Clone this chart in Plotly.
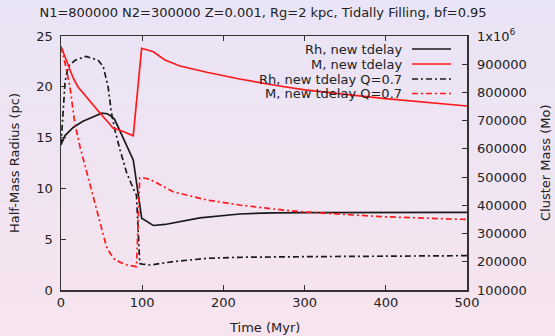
import plotly.graph_objects as go

# ---- data ----
t_rh = [0, 5, 15, 27, 40, 50, 57, 62, 66, 89, 99.4, 113.7, 128, 150, 171, 220, 261, 300, 400, 500]
rh = [14.3, 15.2, 16.0, 16.6, 17.05, 17.4, 17.35, 17.1, 16.8, 12.8, 7.06, 6.35, 6.45, 6.8, 7.1, 7.48, 7.6, 7.62, 7.65, 7.65]

t_m = [0, 5, 9, 15, 21, 30, 38, 45, 50, 60, 64, 75, 89, 99.3, 113.7, 128, 146.5, 179.5, 220, 261.5, 300, 396, 500]
m = [962800, 925600, 890200, 851200, 819300, 787400, 761500, 737800, 720100, 688200, 674000, 663400, 646700,
     956400, 944400, 915000, 893700, 871400, 847600, 826400, 809400, 779300, 752000]

t_rhq = [0, 2, 5, 9, 17, 31, 46, 52, 58, 62, 66.5, 72.7, 81, 89, 93, 97, 100, 110, 138, 180, 220, 300, 400, 500]
rhq = [14.3, 17.0, 20.5, 22.0, 22.6, 23.0, 22.6, 22.0, 20.0, 17.5, 15.7, 13.8, 11.5, 10.0, 9.3, 2.6, 2.55, 2.46, 2.79, 3.12, 3.22, 3.28, 3.33, 3.38]

t_mq = [0, 5, 11, 15, 17, 23.4, 31.6, 39.8, 46, 56, 61, 66.5, 81, 93, 97, 100, 110, 138, 179.5, 220, 261.5, 300, 396, 500]
mq = [962100, 903300, 820400, 737800, 691700, 607800, 519200, 430600, 359700, 253400, 227600, 206300, 188600, 182600,
      496900, 498600, 491500, 448300, 418900, 401200, 387000, 376400, 359700, 349800]

names = ["Rh, new tdelay", "M, new tdelay", "Rh, new tdelay Q=0.7", "M, new tdelay Q=0.7"]

x_ticks = [0, 100, 200, 300, 400, 500]
y_ticks = [0, 5, 10, 15, 20, 25]
y2_ticks = [100000, 200000, 300000, 400000, 500000, 600000, 700000, 800000, 900000, 1000000]
y2_text = ["100000", "200000", "300000", "400000", "500000", "600000", "700000", "800000", "900000", "1x10<sup>6</sup>"]

title = "N1=800000 N2=300000 Z=0.001, Rg=2 kpc, Tidally Filling, bf=0.95"
x_title = "Time (Myr)"
y_title = "Half-Mass Radius (pc)"
y2_title = "Cluster Mass (Mo)"

# ---- styling ----
FONT = "DejaVu Sans"
TXT = "#222222"
AX = "#333333"
DASHDOT = "6px,3px,2px,3px"
colors = ["#1a1a1a", "#ff1a1a", "#1a1a1a", "#ff1a1a"]
dashes = ["solid", "solid", DASHDOT, DASHDOT]
F13 = dict(family=FONT, size=13, color=TXT)

fig = go.Figure()
fig.add_trace(go.Scatter(x=t_rh, y=rh, mode="lines", name=names[0],
                         line=dict(color=colors[0], width=1.7), showlegend=False))
fig.add_trace(go.Scatter(x=t_m, y=m, mode="lines", name=names[1], yaxis="y2",
                         line=dict(color=colors[1], width=1.7), showlegend=False))
fig.add_trace(go.Scatter(x=t_rhq, y=rhq, mode="lines", name=names[2],
                         line=dict(color=colors[2], width=1.7, dash=DASHDOT), showlegend=False))
fig.add_trace(go.Scatter(x=t_mq, y=mq, mode="lines", name=names[3], yaxis="y2",
                         line=dict(color=colors[3], width=1.7, dash=DASHDOT), showlegend=False))

# plot-area geometry in px
L, R, T, B = 61, 467, 36, 290
W, H = 555, 336
pw, ph = R - L, B - T

def px_x(px):
    return (px - L) / pw

def px_y(py):
    return (B - py) / ph

shapes = []
# vertical background gradient (lavender top -> pink bottom)
top_c = (233, 228, 246)
bot_c = (247, 228, 238)
nb = 84
for i in range(nb):
    f = i / (nb - 1)
    c = tuple(round(top_c[k] + (bot_c[k] - top_c[k]) * f) for k in range(3))
    y0 = i * H / nb
    y1 = (i + 1) * H / nb + 0.6
    shapes.append(dict(type="rect", xref="paper", yref="paper", layer="below",
                       x0=px_x(0), x1=px_x(W), y0=px_y(y1), y1=px_y(y0),
                       fillcolor="rgb(%d,%d,%d)" % c, line=dict(width=0)))

# gnuplot-style legend: right-aligned text, sample line on the right
annotations = []
rows_py = [49, 64, 79, 93.5]
for i, nm in enumerate(names):
    yy = px_y(rows_py[i])
    annotations.append(dict(xref="paper", yref="paper", x=px_x(404), y=yy, text=nm,
                            showarrow=False, xanchor="right", yanchor="middle", font=F13))
    shapes.append(dict(type="line", xref="paper", yref="paper",
                       x0=px_x(412), x1=px_x(451), y0=yy, y1=yy,
                       line=dict(color=colors[i], width=1.7, dash=dashes[i])))

# axis titles placed like gnuplot
annotations.append(dict(xref="paper", yref="paper", x=px_x(264), y=px_y(327), text=x_title,
                        showarrow=False, xanchor="center", yanchor="middle", font=F13))
annotations.append(dict(xref="paper", yref="paper", x=px_x(14), y=px_y(163), text=y_title,
                        showarrow=False, xanchor="center", yanchor="middle", textangle=-90, font=F13))
annotations.append(dict(xref="paper", yref="paper", x=px_x(545), y=px_y(163), text=y2_title,
                        showarrow=False, xanchor="center", yanchor="middle", textangle=-90, font=F13))

fig.update_layout(
    width=W, height=H,
    margin=dict(l=L, r=W - R, t=T, b=H - B, autoexpand=False),
    paper_bgcolor="rgba(0,0,0,0)",
    plot_bgcolor="rgba(0,0,0,0)",
    font=F13,
    title=dict(text=title, x=263 / W, xanchor="center", y=1 - 12 / H, yanchor="middle", font=F13),
    xaxis=dict(range=[0, 500], tickvals=x_ticks, ticks="inside", ticklen=5, tickcolor=AX,
               showline=True, linecolor=AX, linewidth=1.5, mirror="ticks", showgrid=False,
               zeroline=False, automargin=False, tickfont=F13),
    yaxis=dict(range=[0, 25], tickvals=y_ticks, ticks="inside", ticklen=5, tickcolor=AX,
               showline=True, linecolor=AX, linewidth=1.5, showgrid=False, zeroline=False,
               ticklabelstandoff=4, automargin=False, tickfont=F13),
    yaxis2=dict(range=[100000, 1000000], tickvals=y2_ticks, ticktext=y2_text, overlaying="y",
                side="right", ticks="inside", ticklen=5, tickcolor=AX, showline=True,
                linecolor=AX, linewidth=1.5, showgrid=False, zeroline=False,
                ticklabelstandoff=6, automargin=False, tickfont=F13),
    shapes=shapes,
    annotations=annotations,
)

fig.write_html("out.html",
               config={"displayModeBar": False, "staticPlot": True},
               post_script="document.body.style.margin='0';document.body.style.overflow='hidden';")
